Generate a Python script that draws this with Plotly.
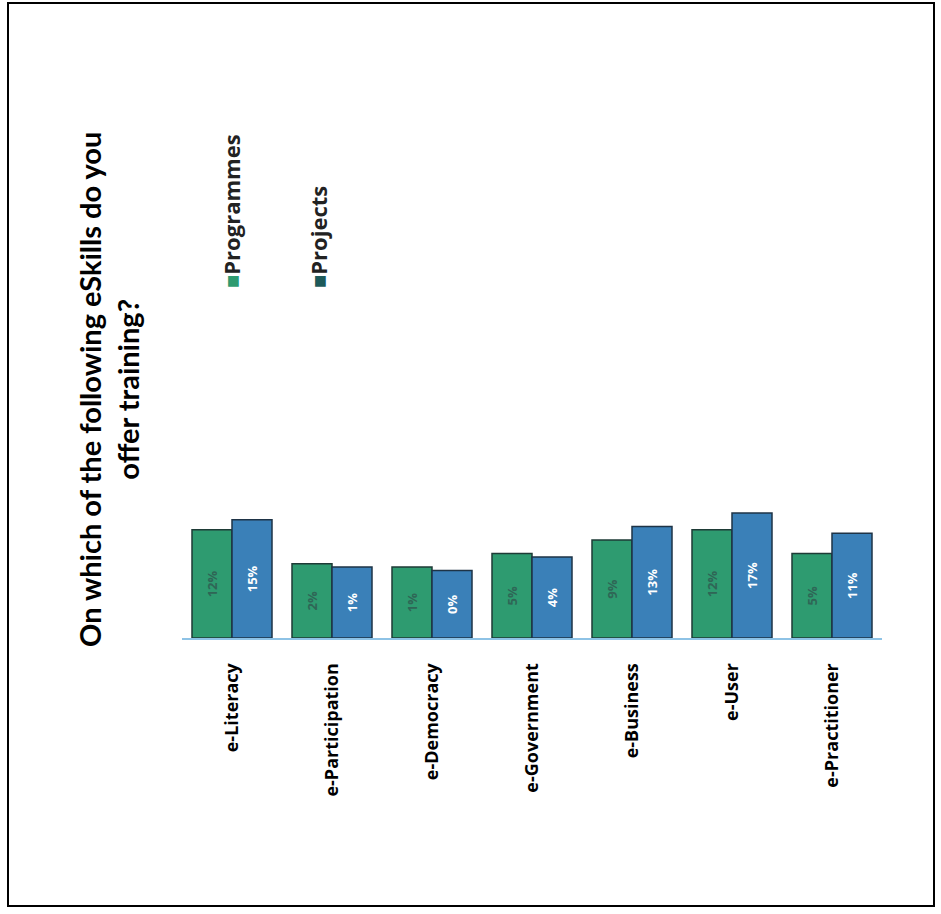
import plotly.graph_objects as go

categories = ["e-Literacy", "e-Participation", "e-Democracy", "e-Government",
              "e-Business", "e-User", "e-Practitioner"]
programmes = [12, 2, 1, 5, 9, 12, 5]
projects = [15, 1, 0, 4, 13, 17, 11]
series_names = ["Programmes", "Projects"]
title_text = "On which of the following eSkills do you<br>offer training?"

W, H = 941, 914
axis_floor = -20
green = "#2e9b70"
blue = "#3a80b8"

fig = go.Figure()
fig.add_trace(go.Bar(
    x=categories, y=[v - axis_floor for v in programmes], base=axis_floor,
    name=series_names[0], marker=dict(color=green, line=dict(color="#1e3b36", width=1.5)),
    text=[f"{v}%" for v in programmes], textposition="inside", textangle=-90,
    insidetextanchor="middle",
    textfont=dict(family="Open Sans", size=13, color="#2f6656", weight="bold"),
))
fig.add_trace(go.Bar(
    x=categories, y=[v - axis_floor for v in projects], base=axis_floor,
    name=series_names[1], marker=dict(color=blue, line=dict(color="#1e3346", width=1.5)),
    text=[f"{v}%" for v in projects], textposition="inside", textangle=-90,
    insidetextanchor="middle",
    textfont=dict(family="Open Sans", size=13, color="white", weight="bold"),
))

fig.update_layout(
    width=W, height=H,
    margin=dict(l=0, r=0, t=0, b=0),
    paper_bgcolor="white", plot_bgcolor="white",
    showlegend=False,
    barmode="group", bargap=0.2, bargroupgap=0.0,
    font=dict(family="Open Sans", color="black"),
    xaxis=dict(domain=[182 / W, 882 / W], showline=True, linecolor="#8ec3e6",
               linewidth=2, tickangle=-90, ticks="", showgrid=False,
               ticklabelstandoff=16,
               tickfont=dict(family="Open Sans", size=18, color="black", weight="bold")),
    yaxis=dict(domain=[(H - 638) / H, (H - 300) / H], range=[axis_floor, 80],
               visible=False, showgrid=False, zeroline=False),
)

# outer frame
fig.add_shape(type="rect", xref="paper", yref="paper",
              x0=8 / W, x1=934 / W, y0=1 - 906 / H, y1=1 - 3 / H,
              line=dict(color="black", width=2))

# title (rotated)
fig.add_annotation(text=f"<b>{title_text}</b>", xref="paper", yref="paper",
                   x=108 / W, y=1 - 390 / H, xanchor="center", yanchor="middle",
                   textangle=-90, showarrow=False,
                   font=dict(family="Lato", size=29, color="black"))

# legend (rotated)
legend_items = [(series_names[0], green, 231), (series_names[1], "#1d5a5a", 318)]
for name, col, px in legend_items:
    fig.add_annotation(
        text=f"<span style='color:{col}'>■</span>{name}",
        xref="paper", yref="paper", x=px / W, y=1 - 290 / H,
        xanchor="center", yanchor="bottom", textangle=-90, showarrow=False,
        font=dict(family="Open Sans", size=22, color="#222", weight="bold"))

fig.write_html("out.html")
